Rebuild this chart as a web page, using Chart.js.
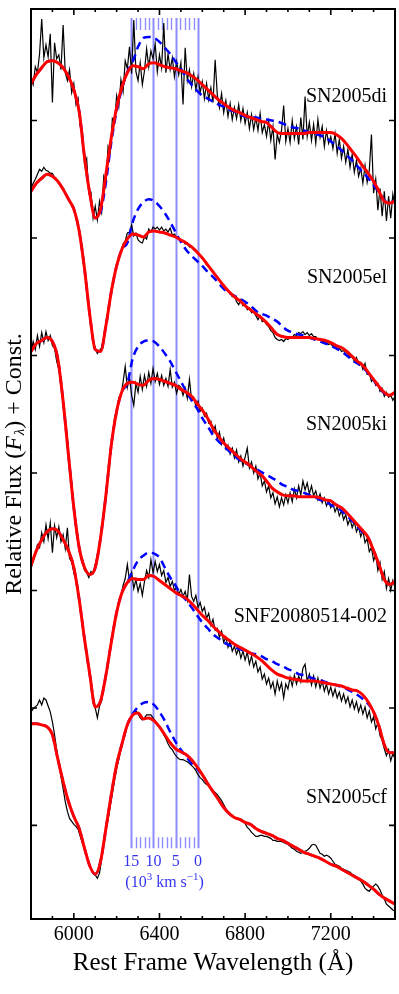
<!DOCTYPE html>
<html lang="en">
<head>
<meta charset="UTF-8">
<title>SN Ia spectra - C II 6580</title>
<script src="https://cdn.jsdelivr.net/npm/chart.js"></script>
<style>
  html, body { margin: 0; padding: 0; background: #fff; }
  #wrap { width: 399px; height: 994px; }
</style>
</head>
<body>
<div id="wrap"><canvas id="specChart" width="399" height="994"></canvas></div>
<script>
// observed spectra: sampled every 10 A from 5800 A
const obsStart = 5800, obsStep = 10;
// model fits: sampled every 25 A from 5800 A
const fitStart = 5800, fitStep = 25;

const names = ['SN2005di', 'SN2005el', 'SN2005ki', 'SNF20080514-002', 'SN2005cf'];

// relative flux + const (arbitrary units)
const obsDi = [
  84.5, 83.8, 85.6, 85.0, 86.9, 90.4, 86.5, 87.8, 86.6, 88.9,
  82.0, 88.0, 86.4, 86.8, 85.3, 89.8, 85.0, 84.2, 85.3, 83.0,
  83.9, 81.8, 82.4, 79.6, 79.2, 75.8, 76.4, 72.9, 73.0, 70.4,
  71.6, 70.2, 72.1, 71.0, 74.6, 74.0, 77.6, 77.0, 80.4, 80.0,
  82.7, 81.6, 84.3, 83.1, 86.2, 85.4, 87.6, 84.9, 90.3, 85.1,
  84.2, 86.0, 83.8, 85.2, 87.4, 85.6, 87.2, 86.4, 87.9, 85.1,
  86.8, 85.5, 90.0, 85.0, 86.9, 85.3, 86.5, 84.6, 86.1, 84.8,
  86.0, 81.8, 87.5, 84.2, 85.3, 83.6, 84.9, 83.3, 84.6, 83.0,
  84.1, 82.4, 83.9, 82.3, 83.5, 82.0, 86.3, 82.8, 81.5, 82.9,
  81.0, 82.2, 80.6, 81.9, 80.3, 81.5, 80.4, 81.8, 80.2, 81.4,
  79.9, 81.0, 79.4, 80.8, 79.3, 80.5, 79.2, 80.9, 79.0, 79.8,
  78.6, 80.1, 78.2, 79.6, 76.3, 78.8, 78.0, 79.2, 81.7, 78.1,
  79.4, 78.0, 80.2, 78.4, 79.6, 77.8, 80.5, 78.3, 82.6, 78.6,
  80.0, 78.2, 79.8, 77.9, 80.3, 78.5, 79.6, 77.6, 79.2, 77.9,
  78.6, 77.4, 78.9, 76.9, 78.3, 76.4, 77.6, 76.0, 77.3, 75.5,
  76.8, 75.0, 76.2, 74.6, 75.4, 73.9, 75.7, 74.0, 75.2, 78.8,
  72.9, 74.3, 71.2, 73.4, 70.6, 73.1, 70.1, 72.6, 70.4, 72.8,
  71.5
];
const obsEl = [
  73.4, 73.9, 74.3, 74.8, 75.3, 75.1, 75.5, 75.2, 75.1, 74.9,
  74.9, 74.5, 74.3, 74.0, 73.6, 73.3, 73.0, 72.5, 72.2, 71.8,
  71.3, 70.5, 69.5, 68.2, 66.9, 65.2, 63.4, 61.7, 59.8, 58.3,
  57.3, 56.8, 57.1, 57.4, 58.5, 59.6, 61.1, 62.4, 63.6, 64.7,
  65.5, 66.4, 67.0, 67.8, 68.1, 68.9, 69.0, 69.7, 68.6, 68.9,
  68.2, 68.0, 67.9, 68.5, 68.3, 69.3, 69.0, 69.5, 69.3, 69.5,
  69.2, 69.5, 69.1, 69.3, 69.0, 69.4, 68.7, 68.8, 68.4, 68.4,
  68.1, 68.1, 67.8, 67.9, 67.5, 67.6, 67.2, 67.2, 66.8, 66.7,
  66.3, 66.2, 65.7, 65.6, 65.2, 65.1, 64.7, 64.5, 64.2, 63.8,
  63.7, 63.2, 63.1, 62.9, 62.5, 62.6, 62.0, 61.7, 62.2, 61.6,
  61.8, 61.2, 61.4, 60.9, 61.0, 60.6, 60.2, 60.6, 60.0, 60.1,
  59.7, 59.5, 59.1, 58.9, 58.4, 58.2, 58.1, 58.2, 58.0, 58.3,
  58.2, 58.5, 58.4, 58.7, 58.6, 58.9, 58.8, 59.0, 58.7, 58.9,
  58.6, 58.8, 58.5, 58.5, 58.2, 58.3, 58.1, 58.0, 58.0, 57.7,
  57.8, 57.5, 57.6, 57.3, 57.4, 57.0, 57.1, 56.7, 56.8, 56.4,
  56.5, 56.0, 56.4, 55.7, 55.9, 55.2, 55.8, 54.7, 54.8, 54.0,
  54.3, 53.6, 53.8, 53.0, 53.3, 52.5, 52.9, 52.4, 52.6, 52.1,
  52.5
];
const obsKi = [
  56.8, 58.0, 57.2, 58.6, 57.5, 58.9, 57.9, 59.0, 58.1, 58.6,
  57.6, 57.3, 56.0, 55.2, 53.5, 52.3, 50.1, 48.3, 45.6, 43.8,
  41.5, 39.7, 38.0, 36.6, 35.9, 35.0, 34.8, 34.3, 34.9, 34.7,
  35.6, 36.6, 37.6, 39.4, 40.8, 42.8, 44.5, 46.8, 48.2, 50.3,
  51.0, 52.3, 52.6, 53.9, 55.5, 53.4, 54.4, 52.6, 51.6, 53.8,
  52.9, 54.5, 53.2, 54.6, 53.5, 54.9, 53.8, 55.3, 54.0, 54.8,
  53.7, 54.6, 53.6, 54.3, 53.5, 55.2, 53.4, 53.9, 52.8, 53.6,
  53.4, 52.6, 53.3, 52.3, 54.2, 52.1, 52.4, 51.5, 52.0, 51.0,
  51.3, 50.5, 50.8, 49.8, 50.0, 48.9, 49.5, 48.3, 48.9, 47.7,
  48.3, 47.2, 47.6, 46.7, 47.3, 46.3, 47.1, 45.9, 46.5, 45.5,
  46.4, 47.3, 45.3, 45.9, 44.8, 45.5, 44.2, 44.8, 43.5, 44.0,
  42.9, 43.5, 42.3, 42.8, 41.7, 42.4, 41.4, 42.3, 41.6, 42.6,
  41.8, 42.8, 41.9, 43.2, 42.3, 43.5, 42.6, 44.0, 43.1, 43.8,
  42.7, 43.5, 42.5, 43.0, 42.1, 42.7, 41.8, 42.3, 41.5, 42.0,
  41.3, 41.8, 40.9, 41.4, 40.5, 41.0, 40.1, 40.6, 39.6, 40.2,
  39.3, 39.9, 38.9, 39.4, 38.4, 39.0, 37.8, 38.2, 36.9, 37.3,
  36.0, 36.6, 35.0, 35.8, 34.1, 34.9, 33.2, 34.2, 33.0, 34.0,
  33.3
];
const obsSnf = [
  35.1, 36.2, 36.5, 37.6, 37.3, 38.8, 37.9, 39.6, 38.2, 39.8,
  36.8, 39.5, 38.3, 39.4, 37.9, 38.6, 37.2, 39.3, 36.2, 35.9,
  34.8, 33.9, 32.6, 31.5, 29.6, 28.3, 26.5, 25.1, 23.4, 22.1,
  21.2, 20.2, 21.4, 21.9, 23.3, 24.5, 26.0, 27.2, 28.7, 29.9,
  30.8, 31.9, 32.4, 33.5, 34.2, 35.6, 34.0, 34.8, 33.2, 34.1,
  32.9, 33.7, 32.5, 33.9, 35.0, 34.3, 36.1, 34.8, 35.9, 34.9,
  35.6, 34.5, 35.0, 33.8, 34.3, 33.4, 33.9, 33.0, 33.3, 32.6,
  33.1, 32.4, 32.9, 32.0, 34.6, 32.4, 31.9, 32.5, 31.3, 31.8,
  30.9, 31.3, 30.2, 30.7, 29.5, 30.1, 29.0, 29.2, 28.3, 28.9,
  27.8, 28.3, 27.3, 27.9, 26.9, 27.4, 26.6, 27.2, 26.2, 26.9,
  26.0, 26.8, 25.6, 26.4, 25.3, 25.9, 24.8, 25.3, 24.1, 24.6,
  23.6, 24.2, 23.2, 23.8, 22.6, 23.9, 23.0, 23.7, 22.2, 23.6,
  23.1, 24.3, 23.4, 24.5, 23.6, 24.4, 23.8, 25.2, 25.6, 23.9,
  24.6, 23.5, 24.4, 23.3, 24.2, 23.2, 23.9, 22.9, 23.6, 22.6,
  23.3, 22.4, 23.1, 22.2, 22.8, 21.9, 22.6, 21.7, 22.3, 21.3,
  22.0, 21.1, 21.8, 20.8, 21.5, 20.6, 21.3, 20.2, 20.9, 19.8,
  20.3, 19.1, 19.7, 18.4, 18.0, 17.1, 16.4, 17.0, 15.9, 16.6,
  16.1
];
const obsCf = [
  20.8, 21.1, 21.3, 21.5, 22.0, 21.5, 22.2, 22.0, 21.4, 20.8,
  19.8, 18.5, 17.0, 15.5, 14.3, 13.1, 11.8, 10.8, 10.1, 9.8,
  9.5, 9.3, 9.0, 8.3, 7.6, 7.0, 6.3, 5.6, 5.1, 4.6,
  4.4, 4.1, 4.6, 6.0, 7.6, 9.0, 10.0, 11.3, 12.6, 13.9,
  15.1, 16.0, 17.0, 17.8, 18.6, 19.5, 20.0, 20.4, 20.6, 20.9,
  20.6, 20.2, 20.0, 20.2, 20.5, 20.5, 20.5, 20.2, 19.9, 19.6,
  19.3, 18.9, 18.5, 18.1, 17.6, 17.2, 17.0, 16.6, 16.3, 16.1,
  16.0, 16.0, 15.9, 15.8, 15.6, 15.4, 15.2, 14.9, 14.5, 14.2,
  14.0, 13.7, 13.5, 13.4, 13.1, 12.9, 12.7, 12.5, 12.2, 11.9,
  11.5, 11.1, 10.7, 10.5, 10.3, 10.2, 10.1, 10.1, 9.9, 9.8,
  9.6, 9.2, 9.0, 8.7, 8.5, 8.3, 8.3, 8.4, 8.4, 8.3,
  8.3, 8.2, 8.1, 7.9, 7.9, 7.8, 7.8, 7.8, 7.7, 7.6,
  7.5, 7.3, 7.1, 7.0, 6.8, 6.7, 6.6, 6.7, 6.8, 6.9,
  7.1, 7.4, 7.5, 7.4, 7.0, 6.6, 6.5, 6.3, 6.4, 6.3,
  6.1, 5.8, 5.5, 5.4, 5.3, 5.1, 5.0, 4.9, 4.8, 4.7,
  4.5, 4.4, 4.2, 4.0, 3.8, 3.5, 3.1, 2.9, 2.8, 3.1,
  3.3, 3.5, 3.3, 2.9, 2.4, 2.0, 1.5, 1.3, 1.1, 0.9,
  0.8
];

// fit including C II (red)
const fitDi = [
  83.9, 84.8, 85.5, 86.1, 86.2, 86.0, 85.5, 84.6, 83.3, 81.1,
  76.5, 72.8, 70.4, 71.3, 74.8, 78.5, 81.5, 83.6, 85.0, 85.7,
  85.6, 85.4, 85.9, 86.0, 85.8, 85.6, 85.5, 85.4, 85.2, 85.0,
  84.7, 84.3, 83.8, 83.3, 82.8, 82.3, 81.9, 81.5, 81.2, 81.0,
  80.7, 80.5, 80.3, 80.1, 80.0, 79.5, 79.0, 78.9, 78.9, 78.9,
  78.9, 78.9, 79.0, 79.0, 79.0, 79.0, 79.0, 78.8, 78.4, 77.8,
  77.1, 76.4, 75.6, 74.9, 74.1, 73.1, 72.1, 71.9, 72.1
];
const fitEl = [
  73.1, 73.9, 74.4, 74.8, 74.6, 74.1, 73.3, 72.3, 71.3, 69.1,
  65.3, 60.6, 57.2, 57.0, 59.6, 63.0, 65.6, 67.3, 68.3, 68.8,
  68.7, 68.5, 69.0, 69.1, 69.0, 68.9, 68.7, 68.5, 68.2, 67.9,
  67.5, 67.0, 66.4, 65.7, 65.0, 64.3, 63.6, 63.0, 62.5, 62.1,
  61.6, 61.2, 60.8, 60.4, 59.9, 59.3, 58.7, 58.5, 58.4, 58.4,
  58.4, 58.4, 58.4, 58.3, 58.2, 58.1, 57.9, 57.6, 57.4, 57.0,
  56.5, 56.0, 55.6, 54.9, 54.2, 53.5, 52.9, 52.6, 52.9
];
const fitKi = [
  57.0, 57.8, 58.1, 58.4, 58.0, 56.3, 52.0, 46.6, 41.3, 37.3,
  35.3, 34.6, 35.3, 38.3, 42.6, 47.6, 51.0, 53.0, 53.8, 53.9,
  53.7, 53.6, 54.1, 54.3, 54.2, 54.0, 53.8, 53.6, 53.2, 52.9,
  52.5, 51.8, 51.1, 50.3, 49.3, 48.5, 47.8, 47.3, 46.8, 46.3,
  45.9, 45.5, 45.0, 44.6, 44.0, 43.3, 42.9, 42.6, 42.5, 42.5,
  42.4, 42.4, 42.4, 42.4, 42.3, 42.1, 42.0, 41.6, 41.3, 40.8,
  40.2, 39.6, 39.0, 38.3, 37.0, 35.6, 34.1, 33.6, 33.9
];
const fitSnf = [
  35.5, 37.0, 38.1, 38.9, 39.2, 39.0, 38.1, 37.0, 35.3, 32.1,
  28.1, 24.5, 21.3, 21.9, 24.5, 27.8, 30.8, 32.8, 33.8, 34.2,
  34.1, 34.1, 34.5, 34.4, 34.0, 33.6, 33.2, 32.8, 32.5, 32.2,
  31.7, 31.1, 30.5, 30.0, 29.4, 28.9, 28.4, 28.0, 27.6, 27.3,
  27.0, 26.7, 26.4, 26.0, 25.5, 25.0, 24.6, 24.4, 24.2, 24.1,
  24.0, 23.9, 23.9, 23.9, 23.8, 23.7, 23.6, 23.5, 23.4, 23.2,
  23.0, 22.9, 22.5, 21.8, 20.8, 19.4, 17.5, 16.7, 16.7
];
const fitCf = [
  19.6, 19.6, 19.5, 19.3, 18.5, 16.1, 13.8, 11.8, 10.3, 9.1,
  7.1, 5.3, 4.5, 5.8, 9.1, 12.5, 15.5, 17.6, 19.5, 20.5,
  20.7, 20.1, 20.2, 19.9, 19.3, 18.5, 17.7, 17.1, 16.8, 16.5,
  16.0, 15.3, 14.5, 13.6, 12.8, 12.0, 11.2, 10.6, 10.2, 10.0,
  9.7, 9.5, 9.1, 8.8, 8.6, 8.4, 8.1, 7.9, 7.6, 7.3,
  7.0, 6.7, 6.5, 6.3, 6.1, 5.8, 5.5, 5.3, 5.0, 4.7,
  4.4, 4.1, 3.8, 3.4, 3.0, 2.5, 2.1, 1.8, 1.5
];

// model without C II (blue dashed)
const noCDi = [
  83.9, 84.8, 85.5, 86.1, 86.2, 86.0, 85.5, 84.6, 83.3, 81.1,
  76.5, 72.8, 70.4, 71.0, 74.0, 78.0, 81.2, 83.4, 85.1, 86.1,
  87.6, 88.5, 88.6, 88.5, 88.1, 87.5, 86.9, 86.1, 85.4, 84.5,
  83.8, 83.2, 82.7, 82.4, 82.1, 81.8, 81.6, 81.3, 81.1, 80.8,
  80.6, 80.5, 80.5, 80.4, 80.3, 80.2, 80.1, 79.9, 79.7, 79.5,
  79.4, 79.2, 79.0, 78.9, 78.7, 78.5, 78.1, 77.7, 77.2, 76.7,
  76.2, 75.6, 75.0, 74.4, 73.7, 73.0, 72.2, 72.0, 72.1
];
const noCEl = [
  73.1, 73.9, 74.4, 74.8, 74.6, 74.1, 73.3, 72.3, 71.3, 69.1,
  65.3, 60.6, 57.2, 57.0, 59.6, 63.0, 65.6, 67.3, 67.9, 70.0,
  71.3, 72.0, 72.3, 72.1, 71.6, 70.9, 70.0, 69.0, 68.0, 67.2,
  66.6, 66.1, 65.6, 65.0, 64.5, 63.9, 63.3, 62.9, 62.6, 62.3,
  62.0, 61.6, 61.1, 60.8, 60.6, 60.3, 60.0, 59.5, 59.1, 58.9,
  58.7, 58.6, 58.4, 58.2, 58.0, 57.8, 57.6, 57.3, 57.0, 56.6,
  56.1, 55.8, 55.4, 54.8, 54.1, 53.4, 52.8, 52.6, 52.9
];
const noCKi = [
  57.0, 57.8, 58.1, 58.4, 58.0, 56.3, 52.0, 46.6, 41.3, 37.3,
  35.3, 34.6, 35.3, 38.3, 42.6, 47.6, 51.0, 53.0, 53.8, 56.3,
  57.5, 58.0, 58.1, 58.0, 57.5, 56.8, 56.0, 55.0, 54.0, 53.0,
  52.1, 51.3, 50.3, 49.5, 48.6, 48.0, 47.5, 47.0, 46.5, 46.1,
  45.8, 45.5, 45.2, 44.9, 44.6, 44.3, 44.0, 43.6, 43.4, 43.1,
  43.0, 42.8, 42.6, 42.4, 42.1, 41.9, 41.6, 41.3, 41.0, 40.5,
  40.0, 39.4, 38.8, 38.3, 37.0, 35.6, 34.1, 33.6, 33.9
];
const noCSnf = [
  35.5, 37.0, 38.1, 38.9, 39.2, 39.0, 38.1, 37.0, 35.3, 32.1,
  28.1, 24.5, 21.3, 21.9, 24.5, 27.8, 30.8, 32.8, 33.8, 35.0,
  36.0, 36.5, 36.8, 36.7, 36.3, 35.3, 34.3, 33.5, 32.6, 32.0,
  31.3, 30.5, 29.8, 29.2, 28.6, 28.2, 27.8, 27.5, 27.3, 27.1,
  26.9, 26.7, 26.6, 26.4, 26.1, 25.9, 25.6, 25.4, 25.1, 24.9,
  24.6, 24.5, 24.3, 24.1, 24.0, 23.8, 23.6, 23.5, 23.3, 23.1,
  22.8, 22.5, 22.1, 21.6, 20.8, 19.4, 17.5, 16.7, 16.7
];
const noCCf = [
  19.6, 19.6, 19.5, 19.3, 18.5, 16.1, 13.8, 11.8, 10.3, 9.1,
  7.1, 5.3, 4.5, 5.8, 9.1, 12.5, 15.5, 17.6, 19.5, 20.6,
  21.3, 21.7, 21.8, 21.5, 20.8, 19.9, 18.8, 17.8, 17.0, 16.3,
  15.6, 15.1, 14.5, 13.6, 12.8, 12.0, 11.2, 10.6, 10.2, 10.0,
  9.7, 9.5, 9.1, 8.8, 8.6, 8.4, 8.1, 7.9, 7.6, 7.3,
  7.0, 6.7, 6.5, 6.3, 6.1, 5.8, 5.5, 5.3, 5.0, 4.7,
  4.4, 4.1, 3.8, 3.4, 3.0, 2.5, 2.1, 1.8, 1.5
];

// y tick marks (no labels on this axis)
const fluxTicks = [9.4, 21.2, 33.0, 44.8, 56.6, 68.4, 80.2];
// x tick labels every 400 A
const waveLabels = [6000, 6400, 6800, 7200];

// C II 6580 velocity markers, 10^3 km/s
const velMarks = [15, 10, 5, 0];
const velRestWave = 6580;
const velAPerKms = 20.8; // A per 1000 km/s

const obsList = [obsDi, obsEl, obsKi, obsSnf, obsCf];
const fitList = [fitDi, fitEl, fitKi, fitSnf, fitCf];
const noCList = [noCDi, noCEl, noCKi, noCSnf, noCCf];

const serif = "'Liberation Serif', 'DejaVu Serif', serif";
const velColor = '#8d8dff';
const velText = '#3535f0';

function series(start, step, vals) {
  return vals.map((v, i) => ({ x: start + i * step, y: v }));
}

const datasets = [];
names.forEach((name, k) => {
  datasets.push({
    label: name + ' data',
    data: series(obsStart, obsStep, obsList[k]),
    borderColor: '#000', borderWidth: 1.2, pointRadius: 0, tension: 0, order: 3
  });
  datasets.push({
    label: name + ' no C II',
    data: series(fitStart, fitStep, noCList[k]),
    borderColor: '#0000ff', borderWidth: 2.5, borderDash: [8, 5], pointRadius: 0,
    cubicInterpolationMode: 'monotone', order: 2
  });
  datasets.push({
    label: name + ' fit',
    data: series(fitStart, fitStep, fitList[k]),
    borderColor: '#ff0000', borderWidth: 3, pointRadius: 0,
    cubicInterpolationMode: 'monotone', order: 1
  });
});

// where the names sit (flux units)
const nameY = [82.6, 64.4, 49.6, 30.4, 12.2];

const decorations = {
  id: 'decorations',
  beforeDatasetsDraw(chart) {
    const { ctx, scales: { x, y } } = chart;
    const yTop = y.getPixelForValue(90.5), yBot = y.getPixelForValue(7.1);
    const yTopMinor = y.getPixelForValue(89.3), yBotMinor = y.getPixelForValue(8.2);
    ctx.save();
    ctx.strokeStyle = velColor;
    for (let v = 0; v <= 15; v++) {
      const px = Math.round(x.getPixelForValue(velRestWave - v * velAPerKms)) + 0.5;
      ctx.beginPath();
      if (velMarks.includes(v)) {
        ctx.lineWidth = 2;
        ctx.moveTo(px, yTop); ctx.lineTo(px, yBot);
      } else {
        ctx.lineWidth = 1.4;
        ctx.moveTo(px, yTop); ctx.lineTo(px, yTopMinor);
        ctx.moveTo(px, yBotMinor); ctx.lineTo(px, yBot);
      }
      ctx.stroke();
    }
    ctx.restore();
  },
  afterDatasetsDraw(chart) {
    const { ctx, chartArea: a, scales: { x, y } } = chart;
    ctx.save();
    // frame
    ctx.strokeStyle = '#000';
    ctx.lineWidth = 2;
    ctx.strokeRect(a.left, a.top, a.right - a.left, a.bottom - a.top);
    // x ticks, bottom and top, pointing in
    ctx.lineWidth = 1.6;
    x.ticks.forEach(t => {
      if (t.value <= x.min || t.value >= x.max) return;
      const px = x.getPixelForValue(t.value);
      const len = waveLabels.includes(t.value) ? 6 : 3;
      ctx.beginPath();
      ctx.moveTo(px, a.bottom); ctx.lineTo(px, a.bottom - len);
      ctx.moveTo(px, a.top); ctx.lineTo(px, a.top + len);
      ctx.stroke();
    });
    // y ticks, left and right
    y.ticks.forEach(t => {
      const py = y.getPixelForValue(t.value);
      ctx.beginPath();
      ctx.moveTo(a.left, py); ctx.lineTo(a.left + 6, py);
      ctx.moveTo(a.right, py); ctx.lineTo(a.right - 6, py);
      ctx.stroke();
    });
    // spectrum names
    ctx.fillStyle = '#000';
    ctx.font = '20px ' + serif;
    ctx.textAlign = 'right';
    ctx.textBaseline = 'middle';
    names.forEach((n, k) => ctx.fillText(n, a.right - 8, y.getPixelForValue(nameY[k])));
    // velocity scale labels
    ctx.fillStyle = velText;
    ctx.textAlign = 'center';
    ctx.font = '16px ' + serif;
    velMarks.forEach(v => {
      ctx.fillText(String(v), x.getPixelForValue(velRestWave - v * velAPerKms), y.getPixelForValue(5.7));
    });
    // (10^3 km s^-1)
    const cx = x.getPixelForValue(velRestWave - 7.5 * velAPerKms);
    const cy = y.getPixelForValue(3.6);
    const parts = [
      ['(10', 16, 0], ['3', 11, -6], [' km s', 16, 0], ['\u22121', 11, -6], [')', 16, 0]
    ];
    let total = 0;
    parts.forEach(p => { ctx.font = p[1] + 'px ' + serif; total += ctx.measureText(p[0]).width; });
    let cur = cx - total / 2;
    ctx.textAlign = 'left';
    parts.forEach(p => {
      ctx.font = p[1] + 'px ' + serif;
      ctx.fillText(p[0], cur, cy + p[2]);
      cur += ctx.measureText(p[0]).width;
    });
    // y axis title
    const ty = (a.top + a.bottom) / 2;
    ctx.translate(15, ty);
    ctx.rotate(-Math.PI / 2);
    ctx.fillStyle = '#000';
    const tparts = [
      ['Relative Flux (', '24px ' + serif, 0],
      ['F', 'italic 24px ' + serif, 0],
      ['\u03bb', 'italic 15px ' + serif, 5],
      [') + Const.', '24px ' + serif, 0]
    ];
    let tw = 0;
    tparts.forEach(p => { ctx.font = p[1]; tw += ctx.measureText(p[0]).width + (p[0] === 'F' ? 1 : 0); });
    let tx = -tw / 2;
    tparts.forEach(p => {
      ctx.font = p[1];
      ctx.fillText(p[0], tx, p[2]);
      tx += ctx.measureText(p[0]).width + (p[0] === 'F' ? 1 : 0);
    });
    ctx.restore();
  }
};

new Chart(document.getElementById('specChart'), {
  type: 'line',
  data: { datasets },
  options: {
    responsive: false,
    devicePixelRatio: 1,
    animation: false,
    events: [],
    layout: { padding: { left: 31, right: 4, top: 9, bottom: 18 } },
    plugins: { legend: { display: false }, tooltip: { enabled: false } },
    scales: {
      x: {
        type: 'linear',
        min: 5800, max: 7500,
        grid: { display: false, drawTicks: false },
        border: { display: false },
        ticks: {
          stepSize: 100, autoSkip: false, maxRotation: 0, padding: 4,
          color: '#000', font: { family: serif, size: 20, lineHeight: 1.2 },
          callback: v => waveLabels.includes(v) ? String(v) : ''
        },
        title: {
          display: true, text: 'Rest Frame Wavelength (\u00c5)', color: '#000',
          font: { family: serif, size: 25, lineHeight: 1 }, padding: { top: 0, bottom: 0 }
        }
      },
      y: {
        type: 'linear',
        min: 0, max: 91.4,
        grid: { display: false, drawTicks: false },
        border: { display: false },
        ticks: { display: false },
        afterBuildTicks: s => { s.ticks = fluxTicks.map(v => ({ value: v })); }
      }
    }
  },
  plugins: [decorations]
});
</script>
</body>
</html>
